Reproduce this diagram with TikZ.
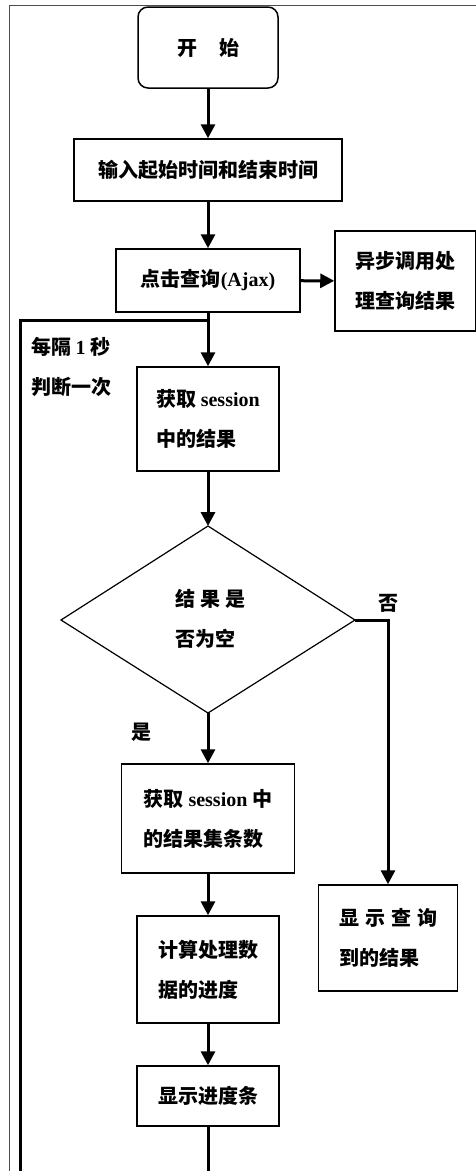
\documentclass[tikz,border=0pt]{standalone}
\usepackage{fontspec}
\setmainfont{Liberation Serif}
\newfontfamily\cjk{Noto Sans CJK SC}
\usetikzlibrary{arrows.meta}
\newcommand{\en}[1]{{\rmfamily #1}}
\begin{document}
\begin{tikzpicture}[x=1pt,y=-1pt,
  txt/.style={font=\cjk\bfseries\fontsize{20}{40}\selectfont,inner sep=0pt,align=left},
  box/.style={txt,draw,line width=1.5pt},
  conn/.style={line width=3pt},
  arr/.style={conn,-{Triangle[length=14pt,width=14pt]}},
  frame/.style={draw=black!70,line width=1pt}]
\useasboundingbox (0,0) rectangle (476,1171);
% outer frame
\draw[frame] (9,1175) -- (9,5) -- (480,5);
% nodes
\node[box,rounded corners=10pt,minimum width=140pt,minimum height=81pt] (start) at (208,47.5) {开\hspace{22pt}始};
\node[box,minimum width=268pt,minimum height=62pt] (input) at (208,170) {输入起始时间和结束时间};
\node[box,minimum width=184pt,minimum height=63pt] (query) at (208,280.5) {点击查询\en{(Ajax)}};
\node[box,minimum width=141pt,minimum height=100pt] (async) at (405.5,281) {异步调用处\\理查询结果};
\node[box,minimum width=142pt,minimum height=104pt] (get) at (208,419) {获取 \en{session}\\中的结果};
\coordinate (dt) at (208,526);
\coordinate (dr) at (355,620);
\coordinate (db) at (208,713);
\coordinate (dl) at (61,620);
\draw[line width=1.2pt] (dt) -- (dr) -- (db) -- (dl) -- cycle;
\node[txt] (cond) at (210,619) {结\hspace{5pt}果\hspace{5pt}是\\否为空};
\node[box,minimum width=173pt,minimum height=109pt] (count) at (208,818.5) {获取 \en{session} 中\\的结果集条数};
\node[box,minimum width=142pt,minimum height=107pt] (calc) at (208,969.5) {计算处理数\\据的进度};
\node[box,minimum width=142pt,minimum height=60pt] (bar) at (208,1096) {显示进度条};
\node[box,minimum width=139pt,minimum height=106pt] (show) at (388,938) {显\hspace{6pt}示\hspace{6pt}查\hspace{6pt}询\\到的结果};
% labels
\node[txt] (loopl) at (71,367) {每隔 \en{1} 秒\\判断一次};
\node[txt] (no) at (388,603) {否};
\node[txt] (yes) at (141,732) {是};
% connectors
\coordinate (looptop) at (208,320);
\draw[arr] (start) -- (input);
\draw[arr] (input) -- (query);
\draw[arr] (query) -- (async);
\draw[arr] (query) -- (get);
\draw[arr] (get) -- (dt);
\draw[arr] (dr) -| (show);
\draw[arr] (db) -- (count);
\draw[arr] (count) -- (calc);
\draw[arr] (calc) -- (bar);
\draw[conn] (bar.south) -- ++(0,70) -| (20,320) -- (looptop);
\end{tikzpicture}
\end{document}
